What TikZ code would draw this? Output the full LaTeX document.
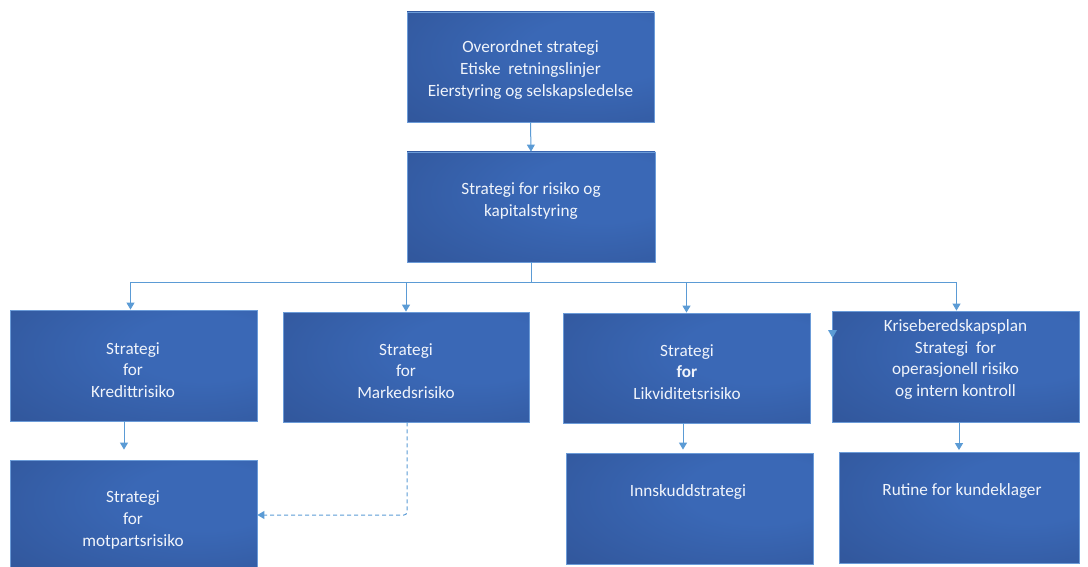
\documentclass[tikz,border=0pt]{standalone}
\usepackage{fontspec}
\setmainfont{Carlito}
\usetikzlibrary{arrows.meta}

\definecolor{boxdark}{HTML}{28447F}
\definecolor{boxlight}{HTML}{3A68B6}
\definecolor{boxedge}{HTML}{6B9BD8}
\definecolor{linkblue}{HTML}{5B9BD5}
\definecolor{labelwhite}{HTML}{F0F4FB}

% soft glow, brightest a little right of and above the centre
\pgfdeclareradialshading{panelshade}{\pgfpoint{18bp}{10bp}}{%
  color(0bp)=(boxlight); color(15bp)=(boxlight); color(75bp)=(boxdark)}

\begin{document}
\begin{tikzpicture}[x=1pt,y=-1pt,
  panel/.style={rectangle, draw=boxedge, line width=0.8pt, shading=panelshade,
    inner sep=0pt, minimum width=247, minimum height=110},
  caption/.style={text=labelwhite, align=center, inner sep=0pt,
    font=\fontsize{17.2}{21.7}\selectfont},
  link/.style={draw=linkblue, line width=1pt, -{Triangle[width=8pt,length=7pt]}},
  dashlink/.style={link, dash pattern=on 4pt off 3pt, rounded corners=3pt}
]
\clip (0,0) rectangle (1088,567);

% boxes
\node[panel] (top)    at (530.5,67)  {};
\node[panel, minimum width=248] (strat) at (531,207) {};
\node[panel, minimum height=111] (kred) at (133.5,365.5) {};
\node[panel, minimum width=246] (mark) at (406,367) {};
\node[panel] (likv)   at (686.5,368) {};
\node[panel, minimum height=111] (krise) at (955.5,366.5) {};
\node[panel] (mot)    at (133.5,515) {};
\node[panel, minimum height=111] (innsk) at (689.5,508.5) {};
\node[panel, minimum width=240, minimum height=111] (rutine) at (959,507.5) {};

% texts
\node[caption] (topcap) at (530.5,70)
  {Overordnet strategi\\Etiske\ \ retningslinjer\\Eierstyring og selskapsledelse};
\node[caption] (stratcap) at (531,201) {Strategi for risiko og\\kapitalstyring};
\node[caption] (kredcap) at (133,370) {Strategi\\for\\Kredittrisiko};
\node[caption] (markcap) at (406,371) {Strategi\\for\\Markedsrisiko};
\node[caption] (likvcap) at (687,372) {Strategi\\\textbf{for}\\Likviditetsrisiko};
\node[caption] (krisecap) at (955.5,359.5)
  {Kriseberedskapsplan\\Strategi\ \ for\\operasjonell risiko\\og intern kontroll};
\node[caption] (motcap) at (133,520) {Strategi\\for\\motpartsrisiko};
\node[caption] (innskcap) at (688,492) {Innskuddstrategi};
\node[caption] (rutinecap) at (962,491) {Rutine for kundeklager};

% connectors
\draw[link] (top.south) -- (strat.north);
\draw[draw=linkblue, line width=1pt] (strat.south) -- ++(0,20) coordinate (bus);
\draw[link] (bus) -| ([xshift=-3pt]kred.north);
\draw[link] (bus) -| (mark.north);
\draw[link] (bus) -| (likv.north);
\draw[link] (bus) -| ([xshift=1pt]krise.north);

\draw[link, shorten >=10pt] ([xshift=-9.5pt]kred.south) -- ([xshift=-9.5pt]kred.south |- mot.north);
\draw[link, shorten >=3pt] ([xshift=-3.5pt]likv.south) -- ([xshift=-3.5pt]likv.south |- innsk.north);
\draw[link, shorten >=1.5pt] ([xshift=3.5pt]krise.south) -- ([xshift=3.5pt]krise.south |- rutine.north);
\draw[dashlink] ([xshift=1pt]mark.south) |- (mot.east);

% loose arrow tip on the left edge of the crisis-plan box
\fill[linkblue] (828,330) -- (837,330) -- (832.5,338) -- cycle;
\end{tikzpicture}
\end{document}
